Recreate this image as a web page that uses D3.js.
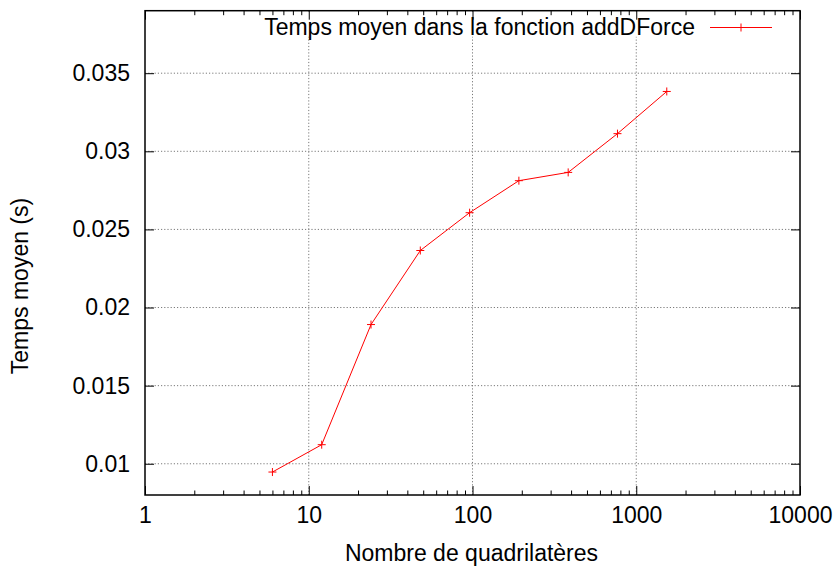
<!DOCTYPE html>
<html><head><meta charset="utf-8">
<script src="https://cdn.jsdelivr.net/npm/d3@7"></script>
<style>
body{margin:0;background:#fff;}
text{font-family:"Liberation Sans",Arial,Helvetica,sans-serif;}
</style></head>
<body>
<svg id="c" width="839" height="568"></svg>
<script>
const quads = [6, 12, 24, 48, 96, 192, 384, 768, 1536];
const tempsMoyen = [0.00947, 0.01122, 0.01891, 0.02365, 0.02607, 0.02812, 0.02865, 0.03113, 0.03383];
const xTickValues = [1, 10, 100, 1000, 10000];
const yTickValues = [0.01, 0.015, 0.02, 0.025, 0.03, 0.035];
const yTickLabels = ["0.01", "0.015", "0.02", "0.025", "0.03", "0.035"];
const seriesName = "Temps moyen dans la fonction addDForce";
const xLabel = "Nombre de quadrilatères";
const yLabel = "Temps moyen (s)";

const svg = d3.select("#c");
const L = 145, R = 800, T = 10.7, B = 495;
const x = d3.scaleLog().domain([1, 10000]).range([L, R]);
const y = d3.scaleLinear().domain([0.008, 0.039]).range([B, T]);
const minors = [];
for (let d = 1; d < 10000; d *= 10) for (let k = 2; k <= 9; k++) minors.push(d * k);

// grid
const grid = svg.append("g").attr("stroke", "#7a7a7a").attr("stroke-width", 1).attr("stroke-dasharray", "1.2,2");
grid.selectAll(".gx").data(xTickValues.slice(1, -1)).join("line")
  .attr("x1", d => x(d)).attr("x2", d => x(d)).attr("y1", T).attr("y2", B);
grid.selectAll(".gy").data(yTickValues).join("line")
  .attr("x1", L).attr("x2", R).attr("y1", d => y(d)).attr("y2", d => y(d));

// legend background (opaque key)
svg.append("rect").attr("x", 252).attr("y", T + 1).attr("width", 530).attr("height", 25).attr("fill", "#fff");

const fs = 23;
function styleAxis(g) {
  g.select(".domain").remove();
  g.selectAll("line").attr("stroke", "#000").attr("stroke-width", 1);
  g.selectAll("text").attr("font-size", fs).attr("fill", "#000").attr("font-family", '"Liberation Sans",Arial,Helvetica,sans-serif');
}
// bottom axis
svg.append("g").attr("transform", `translate(0,${B})`)
  .call(d3.axisBottom(x).tickValues(xTickValues).tickFormat(d3.format("d")).tickSize(-9).tickPadding(11.5)).call(styleAxis);
svg.append("g").attr("transform", `translate(0,${B})`)
  .call(d3.axisBottom(x).tickValues(minors).tickFormat("").tickSize(-4.5)).call(styleAxis);
// top axis
svg.append("g").attr("transform", `translate(0,${T})`)
  .call(d3.axisTop(x).tickValues(xTickValues).tickFormat("").tickSize(-9)).call(styleAxis);
svg.append("g").attr("transform", `translate(0,${T})`)
  .call(d3.axisTop(x).tickValues(minors).tickFormat("").tickSize(-4.5)).call(styleAxis);
// left axis
svg.append("g").attr("transform", `translate(${L},0)`)
  .call(d3.axisLeft(y).tickValues(yTickValues).tickFormat((d, i) => yTickLabels[i]).tickSize(-9).tickPadding(15)).call(styleAxis);
// right axis
svg.append("g").attr("transform", `translate(${R},0)`)
  .call(d3.axisRight(y).tickValues(yTickValues).tickFormat("").tickSize(-9)).call(styleAxis);

// frame
svg.append("rect").attr("x", L).attr("y", T).attr("width", R - L).attr("height", B - T)
  .attr("fill", "none").attr("stroke", "#000").attr("stroke-width", 1.5);

// axis labels
svg.append("text").attr("x", 471.5).attr("y", 561).attr("text-anchor", "middle").attr("font-size", fs).text(xLabel);
svg.append("text").attr("transform", "translate(28,286) rotate(-90)").attr("text-anchor", "middle").attr("font-size", fs).text(yLabel);

// legend
svg.append("text").attr("x", 695).attr("y", 35).attr("text-anchor", "end").attr("font-size", fs).text(seriesName);
const red = "#ff0000";
svg.append("line").attr("x1", 710).attr("x2", 772).attr("y1", 27.5).attr("y2", 27.5).attr("stroke", red).attr("stroke-width", 1);
function plus(g, cx, cy) {
  g.append("path").attr("d", `M${cx - 4},${cy}H${cx + 4}M${cx},${cy - 4}V${cy + 4}`).attr("stroke", red).attr("stroke-width", 1).attr("fill", "none");
}
plus(svg, 741, 27.5);

// series
const data = quads.map((q, i) => ({ q, v: tempsMoyen[i] }));
svg.append("path").datum(data)
  .attr("d", d3.line().x(d => x(d.q)).y(d => y(d.v)))
  .attr("fill", "none").attr("stroke", red).attr("stroke-width", 1);
const mk = svg.append("g");
data.forEach(d => plus(mk, x(d.q), y(d.v)));
</script>
</body></html>
